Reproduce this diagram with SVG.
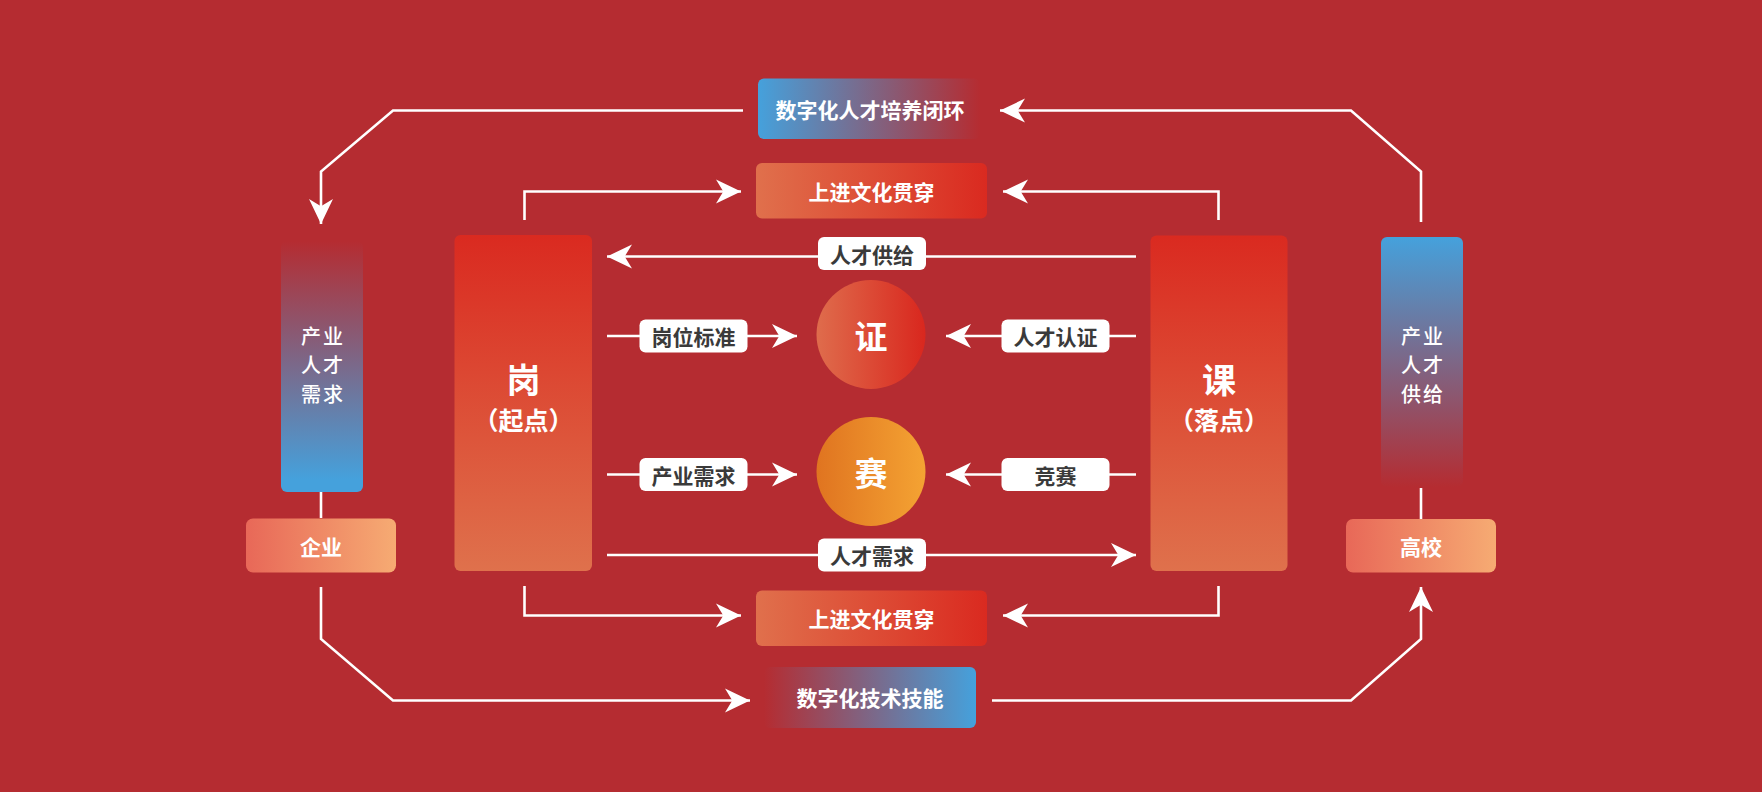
<svg xmlns="http://www.w3.org/2000/svg" width="1762" height="792" viewBox="0 0 1762 792">
<defs>
<style>
.ln{fill:none;stroke:#fff;stroke-width:2.6;stroke-linejoin:miter}
.wt{fill:#fff;font-family:"Noto Sans CJK SC","Noto Sans",sans-serif;font-weight:700;text-anchor:middle;dominant-baseline:central}
.col{fill:#fff;font-family:"Noto Sans CJK SC","Noto Sans",sans-serif;font-weight:500;font-size:20px;text-anchor:middle;letter-spacing:2px}
.lbl{fill:#3a3a3a;font-family:"Noto Sans CJK SC","Noto Sans",sans-serif;font-weight:700;font-size:21px;text-anchor:middle;dominant-baseline:central}
.lb{fill:#fff}
</style>
<marker id="ah" viewBox="0 0 24 24" refX="24" refY="12" markerWidth="25" markerHeight="25" markerUnits="userSpaceOnUse" orient="auto">
<path d="M24,12 L0,0.5 L7,12 L0,23.5 Z" fill="#fff"/>
</marker>
<linearGradient id="gBlueR" x1="0" y1="0" x2="1" y2="0"><stop offset="0" stop-color="#45a1dc"/><stop offset="1" stop-color="#b52c31"/></linearGradient>
<linearGradient id="gBlueL" x1="0" y1="0" x2="1" y2="0"><stop offset="0" stop-color="#b52c31"/><stop offset="1" stop-color="#45a1dc"/></linearGradient>
<linearGradient id="gBlueUp" x1="0" y1="0" x2="0" y2="1"><stop offset="0" stop-color="#b52c31"/><stop offset="0.95" stop-color="#45a1dc"/></linearGradient>
<linearGradient id="gBlueDn" x1="0" y1="0" x2="0" y2="1"><stop offset="0" stop-color="#45a1dc"/><stop offset="1" stop-color="#b52c31"/></linearGradient>
<linearGradient id="gCult" x1="0" y1="0" x2="1" y2="0"><stop offset="0" stop-color="#e0704c"/><stop offset="1" stop-color="#da2a20"/></linearGradient>
<linearGradient id="gBig" x1="0" y1="0" x2="0" y2="1"><stop offset="0" stop-color="#da2a20"/><stop offset="1" stop-color="#df714c"/></linearGradient>
<linearGradient id="gOrg" x1="0" y1="0" x2="1" y2="0"><stop offset="0" stop-color="#e86858"/><stop offset="1" stop-color="#f6ab73"/></linearGradient>
<linearGradient id="gZheng" x1="0" y1="0" x2="1" y2="0"><stop offset="0" stop-color="#df6c4c"/><stop offset="1" stop-color="#d9271e"/></linearGradient>
<linearGradient id="gSai" x1="0" y1="0" x2="1" y2="0"><stop offset="0" stop-color="#e07420"/><stop offset="1" stop-color="#f4a333"/></linearGradient>
</defs>
<rect x="0" y="0" width="1762" height="792" fill="#b52c31"/>

<g id="connectors">
<path class="ln" d="M743,110.5 H393 L321,171.5 V224" marker-end="url(#ah)"/>
<path class="ln" d="M1421,222 V171.5 L1351,110.5 H1000" marker-end="url(#ah)"/>
<path class="ln" d="M524.5,220 V191.5 H741" marker-end="url(#ah)"/>
<path class="ln" d="M1218.5,220 V191.5 H1003" marker-end="url(#ah)"/>
<path class="ln" d="M524.5,586 V615.5 H741" marker-end="url(#ah)"/>
<path class="ln" d="M1218.5,586 V615.5 H1003" marker-end="url(#ah)"/>
<path class="ln" d="M321,587 V639 L393,700.5 H750" marker-end="url(#ah)"/>
<path class="ln" d="M992,700.5 H1351 L1421,639 V587" marker-end="url(#ah)"/>
<path class="ln" d="M321,492 V518"/>
<path class="ln" d="M1421,488 V519"/>
<path class="ln" d="M1136,256.5 H607" marker-end="url(#ah)"/>
<path class="ln" d="M607,555 H1136" marker-end="url(#ah)"/>
<path class="ln" d="M607,336 H797" marker-end="url(#ah)"/>
<path class="ln" d="M1136,336 H946" marker-end="url(#ah)"/>
<path class="ln" d="M607,474.5 H797" marker-end="url(#ah)"/>
<path class="ln" d="M1136,474.5 H946" marker-end="url(#ah)"/>
<rect class="lb" x="818" y="237" width="108" height="33" rx="6"/>
<text class="lbl" x="872" y="253.5">人才供给</text>
<rect class="lb" x="818" y="538.5" width="108" height="33" rx="6"/>
<text class="lbl" x="872" y="555">人才需求</text>
<rect class="lb" x="639.5" y="319.5" width="108" height="33" rx="6"/>
<text class="lbl" x="693.5" y="336">岗位标准</text>
<rect class="lb" x="1001.5" y="319.5" width="108" height="33" rx="6"/>
<text class="lbl" x="1055.5" y="336">人才认证</text>
<rect class="lb" x="639.5" y="458" width="108" height="33" rx="6"/>
<text class="lbl" x="693.5" y="474.5">产业需求</text>
<rect class="lb" x="1001.5" y="458" width="108" height="33" rx="6"/>
<text class="lbl" x="1055.5" y="474.5">竞赛</text>
</g>

<g id="loop-top">
<rect x="758" y="78.5" width="222" height="60.5" rx="6" fill="url(#gBlueR)"/>
<text class="wt" x="870" y="109" font-size="21">数字化人才培养闭环</text>
</g>
<g id="culture-top">
<rect x="756" y="163" width="231" height="55.5" rx="6" fill="url(#gCult)"/>
<text class="wt" x="871.5" y="190.5" font-size="21">上进文化贯穿</text>
</g>
<g id="culture-bottom">
<rect x="756" y="590.5" width="231" height="55.5" rx="6" fill="url(#gCult)"/>
<text class="wt" x="871.5" y="618" font-size="21">上进文化贯穿</text>
</g>
<g id="loop-bottom">
<rect x="764" y="667" width="212" height="61" rx="6" fill="url(#gBlueL)"/>
<text class="wt" x="870" y="697" font-size="21">数字化技术技能</text>
</g>

<g id="demand-col">
<rect x="281" y="241" width="82" height="251" rx="6" fill="url(#gBlueUp)"/>
<text class="col" x="323" y="343.5">产业</text>
<text class="col" x="323" y="372.5">人才</text>
<text class="col" x="323" y="401.5">需求</text>
</g>
<g id="enterprise">
<rect x="246" y="518.5" width="150" height="54" rx="7" fill="url(#gOrg)"/>
<text class="wt" x="321" y="546" font-size="21">企业</text>
</g>
<g id="supply-col">
<rect x="1381" y="237" width="82" height="250" rx="6" fill="url(#gBlueDn)"/>
<text class="col" x="1423" y="344">产业</text>
<text class="col" x="1423" y="373">人才</text>
<text class="col" x="1423" y="402">供给</text>
</g>
<g id="university">
<rect x="1346" y="519" width="150" height="53.5" rx="7" fill="url(#gOrg)"/>
<text class="wt" x="1421" y="546" font-size="21">高校</text>
</g>

<g id="gang">
<rect x="454.5" y="235" width="137.5" height="336" rx="6" fill="url(#gBig)"/>
<text class="wt" x="523.5" y="378" font-size="34">岗</text>
<text class="wt" x="523.5" y="419" font-size="25" font-weight="500">（起点）</text>
</g>
<g id="ke">
<rect x="1150.5" y="235.5" width="137" height="335.5" rx="6" fill="url(#gBig)"/>
<text class="wt" x="1219" y="378" font-size="34">课</text>
<text class="wt" x="1219" y="419" font-size="25" font-weight="500">（落点）</text>
</g>

<g id="zheng">
<circle cx="871" cy="334.5" r="54.5" fill="url(#gZheng)"/>
<text class="wt" x="871" y="334.5" font-size="33">证</text>
</g>
<g id="sai">
<circle cx="871" cy="471.5" r="54.5" fill="url(#gSai)"/>
<text class="wt" x="871" y="471.5" font-size="33">赛</text>
</g>
</svg>
